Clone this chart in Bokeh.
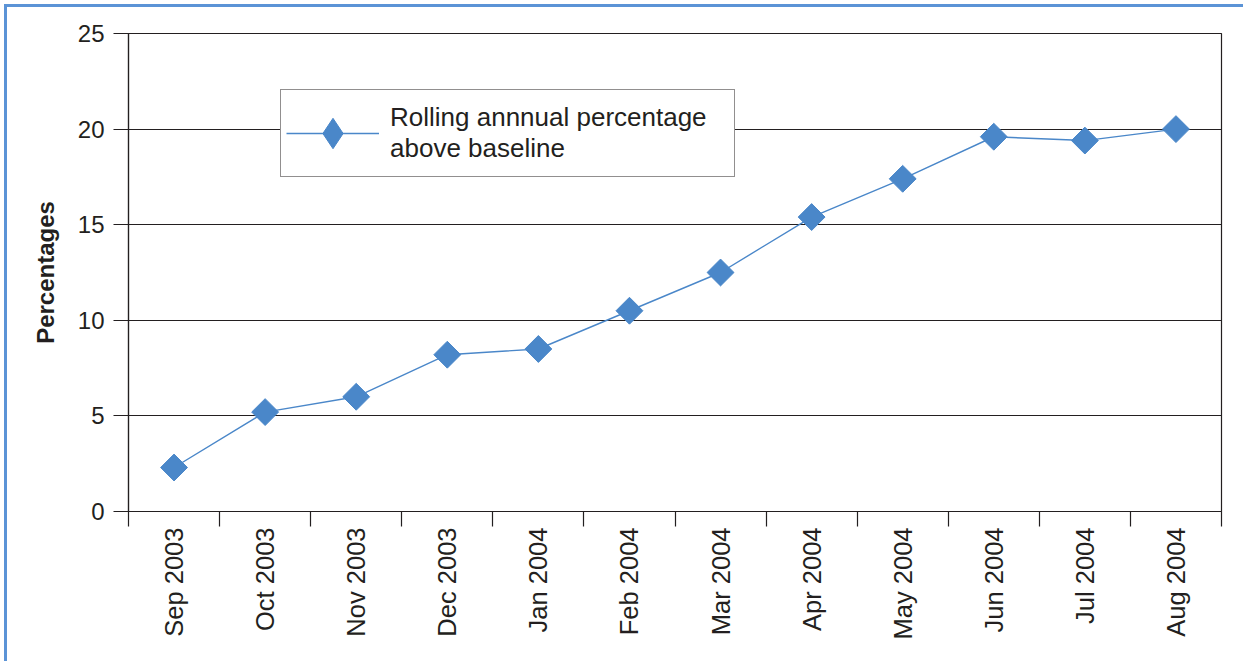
import numpy as np
from bokeh.plotting import figure
from bokeh.models import ColumnDataSource, FixedTicker, Range1d, Legend, LegendItem
from bokeh.embed import file_html
from bokeh.resources import INLINE

# Monthly rolling annual percentage above baseline
months = ["Sep 2003", "Oct 2003", "Nov 2003", "Dec 2003", "Jan 2004", "Feb 2004",
          "Mar 2004", "Apr 2004", "May 2004", "Jun 2004", "Jul 2004", "Aug 2004"]
pct_above = [2.3, 5.2, 6.0, 8.2, 8.5, 10.5, 12.5, 15.4, 17.4, 19.6, 19.4, 20.0]
y_ticks = [0, 5, 10, 15, 20, 25]
series_label = "Rolling annnual percentage\nabove baseline"
y_title = "Percentages"

BLUE = "#4a87c9"
INK = "#231f20"
FONT = "Liberation Sans"

# each month occupies one unit slot; points sit in the middle of their slot
x_mid = [i + 0.5 for i in range(len(months))]
src = ColumnDataSource(dict(x=x_mid, y=pct_above))

p = figure(width=1239, height=657, output_backend="svg", toolbar_location=None,
           x_range=Range1d(0, len(months)), y_range=Range1d(0, 25),
           min_border_left=121, min_border_right=25, min_border_top=26,
           min_border_bottom=153)
p.styles = {"margin-left": "4px", "margin-top": "4px",
            "border-left": "3px solid #5b93d6", "border-top": "3px solid #5b93d6"}

p.background_fill_color = "white"
p.border_fill_color = "white"
p.outline_line_color = INK
p.outline_line_width = 1.2

# x axis: labels at slot centres, tick marks at slot boundaries
xa = p.xaxis[0]
xa.ticker = FixedTicker(ticks=x_mid, minor_ticks=list(range(len(months) + 1)))
xa.major_label_overrides = {x: m for x, m in zip(x_mid, months)}
xa.major_label_orientation = np.pi / 2
xa.major_tick_line_color = None
xa.major_tick_out = 0
xa.major_tick_in = 0
xa.minor_tick_line_color = INK
xa.minor_tick_line_width = 1.2
xa.minor_tick_in = 0
xa.minor_tick_out = 15
xa.major_label_standoff = 1
xa.major_label_text_font = FONT
xa.major_label_text_font_size = "25.5px"
xa.major_label_text_color = INK
xa.axis_line_color = INK
xa.axis_line_width = 1.2

ya = p.yaxis[0]
ya.ticker = FixedTicker(ticks=y_ticks)
ya.major_tick_out = 15
ya.major_tick_in = 0
ya.major_tick_line_color = INK
ya.major_tick_line_width = 1.2
ya.minor_tick_line_color = None
ya.major_label_standoff = 9
ya.major_label_text_font = FONT
ya.major_label_text_font_size = "24px"
ya.major_label_text_color = INK
ya.axis_line_color = INK
ya.axis_line_width = 1.2
ya.axis_label = y_title
ya.axis_label_text_font = FONT
ya.axis_label_text_font_size = "24px"
ya.axis_label_text_font_style = "bold"
ya.axis_label_text_color = INK
ya.axis_label_standoff = 16

p.xgrid.grid_line_color = None
p.ygrid.ticker = FixedTicker(ticks=y_ticks)
p.ygrid.grid_line_color = INK
p.ygrid.grid_line_width = 1.2

line_r = p.line("x", "y", source=src, line_color=BLUE, line_width=1.4)
p.scatter("x", "y", source=src, marker="square", size=19, angle=np.pi / 4,
          fill_color=BLUE, line_color=BLUE)

# legend key: narrow diamond on the series line
key_src = ColumnDataSource(dict(x=[np.nan], y=[np.nan]))
key_r = p.scatter("x", "y", source=key_src, marker="diamond", size=10,
                  fill_color=BLUE, line_color=BLUE)

legend = Legend(items=[LegendItem(label=series_label, renderers=[line_r, key_r])],
                location=(152, 334), padding=5, margin=0,
                glyph_width=93, glyph_height=76, label_width=339, label_height=76,
                label_standoff=11, spacing=0,
                label_text_font=FONT, label_text_font_size="26px",
                label_text_color=INK, label_text_line_height=0.9,
                border_line_color=INK, border_line_width=1.5,
                background_fill_color="white", background_fill_alpha=1.0)
p.add_layout(legend, "center")

open("out.html", "w").write(file_html(p, INLINE))
